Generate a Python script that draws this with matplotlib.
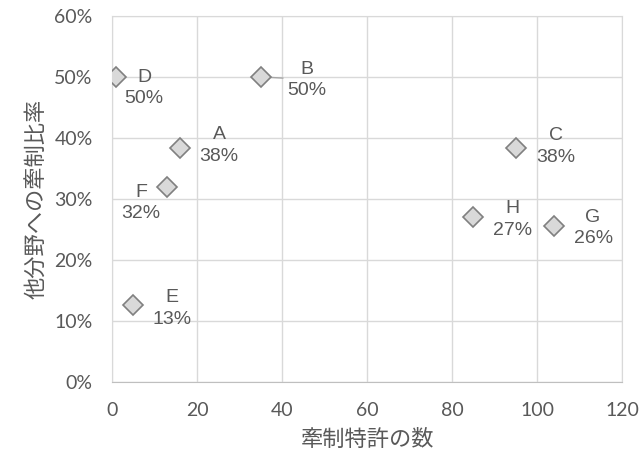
import matplotlib.pyplot as plt
from matplotlib.ticker import PercentFormatter

# patent counts vs. share of blocking citations in other fields
names = ['A', 'B', 'C', 'D', 'E', 'F', 'G', 'H']
patents = [16, 35, 95, 1, 5, 13, 104, 85]
ratio = [0.384, 0.50, 0.384, 0.50, 0.126, 0.32, 0.256, 0.27]

# label offsets in pixels (dx, dy), text centred
offsets = {
    'A': (39, 2), 'B': (46, -3), 'C': (40, 1), 'D': (28, -11),
    'E': (39, -3), 'F': (-26, -16), 'G': (39, -2), 'H': (39, -2),
}

gray = '#595959'
jp = ['Noto Sans CJK JP', 'DejaVu Sans']
lbl_font = ['Liberation Sans Narrow', 'Liberation Sans', 'DejaVu Sans']

fig = plt.figure(figsize=(6.4, 4.65), dpi=100)
ax = fig.add_axes([0.175, 0.178, 0.797, 0.788])

# leader line for B
bi = names.index('B')
ax.plot([patents[bi], patents[bi] + 22 / 4.25], [ratio[bi], ratio[bi] - 0.002],
        color='#a6a6a6', lw=1, zorder=2)

ax.plot(patents, ratio, linestyle='none', marker='D', markersize=10,
        markerfacecolor='#d9d9d9', markeredgecolor='#808080',
        markeredgewidth=1.2, zorder=3)

for n, x, y in zip(names, patents, ratio):
    dx, dy = offsets[n]
    ax.annotate(f'{n}\n{y:.0%}', (x, y), xytext=(dx, dy),
                textcoords='offset pixels', ha='center', va='center',
                fontsize=14, color=gray, family=lbl_font,
                linespacing=1.35, zorder=4)

ax.set_xlim(0, 120)
ax.set_ylim(0, 0.6)
ax.set_xticks(range(0, 121, 20))
ax.set_yticks([i / 10 for i in range(7)])
ax.yaxis.set_major_formatter(PercentFormatter(1.0, decimals=0))

ax.grid(True, color='#d9d9d9', lw=1)
ax.set_axisbelow(True)
for s in ax.spines.values():
    s.set_color('#d9d9d9')
ax.spines['bottom'].set_color('#bfbfbf')
ax.tick_params(length=0, labelsize=14, labelcolor=gray)
ax.tick_params(axis='x', pad=14)
ax.tick_params(axis='y', pad=14)
for lab in ax.get_xticklabels() + ax.get_yticklabels():
    lab.set_family('Lato')

ax.set_xlabel('牽制特許の数', family=jp, fontsize=16, color=gray, labelpad=7)
ax.set_ylabel('他分野への牽制比率', family=jp, fontsize=16, color=gray, labelpad=4)

fig.savefig('out.png', dpi=100)
